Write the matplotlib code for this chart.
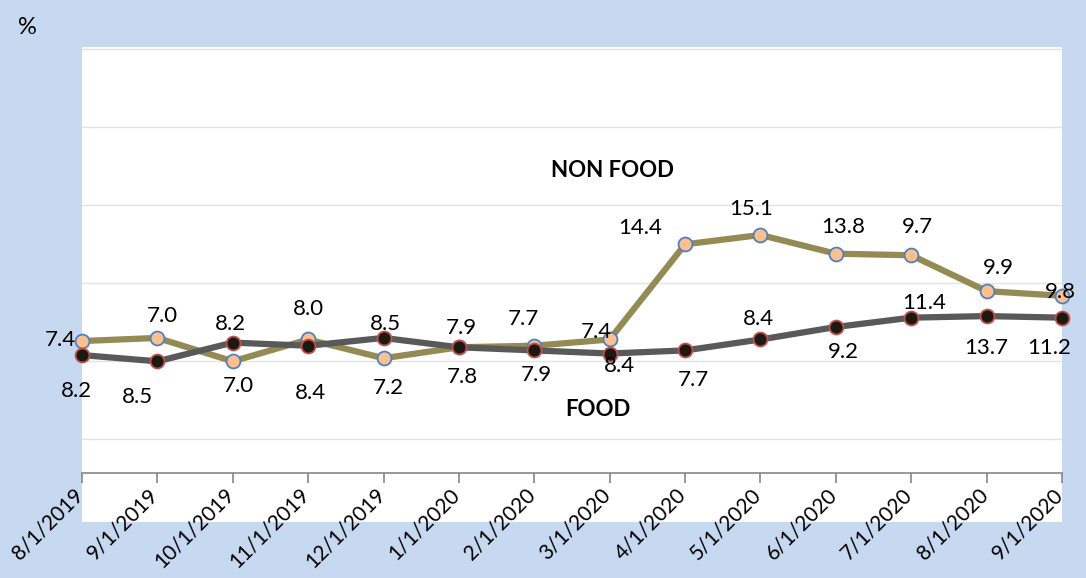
import matplotlib.pyplot as plt
import matplotlib.transforms as mtransforms

# fechas del eje x
fechas = ['8/1/2019', '9/1/2019', '10/1/2019', '11/1/2019', '12/1/2019', '1/1/2020',
          '2/1/2020', '3/1/2020', '4/1/2020', '5/1/2020', '6/1/2020', '7/1/2020',
          '8/1/2020', '9/1/2020']

no_alimentos = [6.3, 6.5, 5.0, 6.4, 5.2, 5.9, 6.0, 6.4, 12.5, 13.1, 11.9, 11.8, 9.5, 9.2]
alimentos = [5.4, 5.0, 6.2, 6.0, 6.5, 5.9, 5.7, 5.5, 5.7, 6.4, 7.2, 7.8, 7.9, 7.8]

# etiquetas de datos tal como aparecen en el grafico
etiq_no_alimentos = ['7.4', '7.0', '7.0', '8.0', '7.2', '7.9', '7.7', '7.4',
                     '14.4', '15.1', '13.8', '9.7', '9.9', '9.8']
etiq_alimentos = ['8.2', '8.5', '8.2', '8.4', '8.5', '7.8', '7.9', '8.4',
                  '7.7', '8.4', '9.2', '11.4', '13.7', '11.2']

# desplazamientos de las etiquetas en pixeles (dx, dy hacia arriba)
desp_no = [(-22, 1), (5, 22), (6, -25), (0, 30), (5, -30), (2, 19), (-11, 27), (-13, 7),
           (-45, 16), (-9, 26), (7, 27), (6, 28), (12, 23), (-2, 4)]
desp_al = [(-6, -36), (-20, -36), (-2, 19), (2, -47), (2, 14), (3, -30), (2, -25), (10, -12),
           (8, -30), (-2, 20), (8, -25), (13, 15), (0, -32), (-13, -30)]

fondo = '#c6d9f1'
plt.rcParams['font.family'] = ['Lato', 'DejaVu Sans']

fig = plt.figure(figsize=(10.86, 5.78), dpi=100, facecolor=fondo)
ax = fig.add_axes([82 / 1086, 1 - 522 / 578, 980 / 1086, 475 / 578])
ax.set_facecolor('white')

x = list(range(len(fechas)))

ax.plot(x, no_alimentos, color='#948a54', lw=4.5, marker='o', ms=10,
        mfc='#fac090', mec='#4f81bd', mew=1.3, clip_on=False, zorder=3)
ax.plot(x, alimentos, color='#595959', lw=4.5, marker='o', ms=10,
        mfc='#1c1a10', mec='#c0504d', mew=1.3, clip_on=False, zorder=4)

for i in x:
    dx, dy = desp_no[i]
    ax.annotate(etiq_no_alimentos[i], (x[i], no_alimentos[i]), xytext=(dx, dy),
                textcoords='offset pixels', ha='center', va='center', fontsize=16,
                color='black', zorder=6, annotation_clip=False)
    dx, dy = desp_al[i]
    ax.annotate(etiq_alimentos[i], (x[i], alimentos[i]), xytext=(dx, dy),
                textcoords='offset pixels', ha='center', va='center', fontsize=16,
                color='black', zorder=6, annotation_clip=False)

ax.text(7.04, 17.24, 'NON FOOD', fontsize=16, fontweight='bold', ha='center', va='center')
ax.text(6.84, 1.92, 'FOOD', fontsize=16, fontweight='bold', ha='center', va='center')

ax.set_xlim(0, 13)
ax.set_ylim(-5.3, 25.15)

# lineas de cuadricula horizontales
for g in [0, 5, 10, 15, 20, 25]:
    ax.axhline(g, color='#e3e3e3', lw=1, zorder=1)

for s in ['top', 'right', 'left']:
    ax.spines[s].set_visible(False)
ax.spines['bottom'].set_position(('data', -2.18))
ax.spines['bottom'].set_color('#868686')
ax.spines['bottom'].set_linewidth(1.2)

ax.set_yticks([])
ax.set_xticks(x)
ax.set_xticklabels(fechas, rotation=45, ha='right', va='top', fontsize=15)
ax.tick_params(axis='x', direction='out', length=7, width=1.2, color='#868686', pad=1)

# correr un poco las etiquetas del eje hacia la derecha
desplazamiento = mtransforms.ScaledTranslation(5 / 100, 0, fig.dpi_scale_trans)
for lbl in ax.get_xticklabels():
    lbl.set_transform(lbl.get_transform() + desplazamiento)

fig.text(27 / 1086, 1 - 28 / 578, '%', fontsize=17, ha='center', va='center')

fig.savefig('out.png', dpi=100, facecolor=fondo)
